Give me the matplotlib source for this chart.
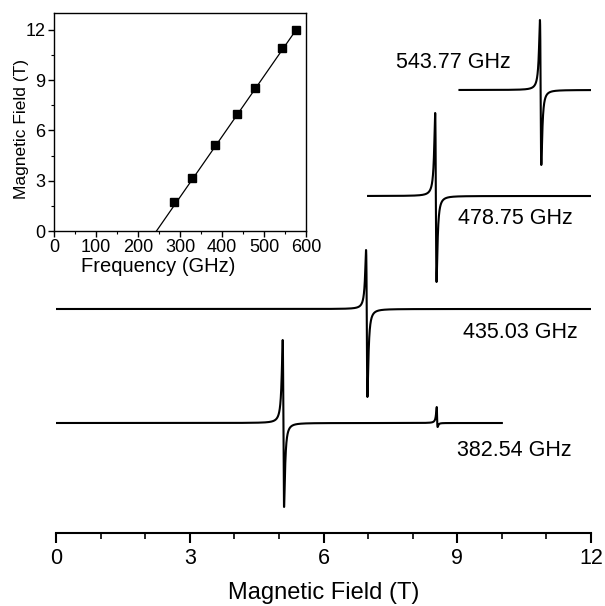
import numpy as np
import matplotlib
matplotlib.use("Agg")
import matplotlib.pyplot as plt
from matplotlib.ticker import MultipleLocator

plt.rcParams['font.family'] = ['Liberation Sans', 'DejaVu Sans']

# ---------------- data ----------------
# spectra labels (GHz)
spec_labels = ["382.54 GHz", "435.03 GHz", "478.75 GHz", "543.77 GHz"]
# field range of each recorded trace (T)
trace_start = [0.0, 0.0, 7.0, 9.05]
trace_end = [10.0, 12.0, 12.0, 12.0]
# main resonance field (T) and lobe amplitudes (arb. units)
res_field = [5.10, 6.97, 8.52, 10.87]
amp_up = [83, 59, 83, 70]
amp_down = [84, 88, 86, 75]
res_width = [0.022, 0.022, 0.022, 0.022]
# weak extra line in the 382.54 GHz trace
extra_field = [8.55]
extra_up = [16]
extra_down = [4]
extra_width = [0.015]

# inset: resonance field vs frequency
inset_freq = [285, 328, 382.54, 435.03, 478.75, 543.77, 575]
inset_field = [1.75, 3.15, 5.15, 7.0, 8.55, 10.9, 12.0]
fit_freq = [244, 578]
fit_field = [0.0, 12.05]

# ---------------- layout ----------------
offsets = [110, 224, 337, 443]
label_x = [8.99, 9.13, 9.01, 7.62]
label_y = [82, 201, 315, 471]


def deriv_line(b, b0, w, up, down):
    x = (b - b0) / w
    s = -x / (1 + x ** 2) ** 1.5 / 0.3849
    return np.where(s > 0, s * up, s * down)


fig = plt.figure(figsize=(6.05, 6.06), dpi=100)
ax = fig.add_axes([56 / 605, (606 - 533) / 606, 535 / 605, 533 / 606])
ax.set_xlim(0, 12)
ax.set_ylim(0, 533)

for i in range(4):
    b = np.linspace(trace_start[i], trace_end[i], 12000)
    y = deriv_line(b, res_field[i], res_width[i], amp_up[i], amp_down[i])
    if i == 0:
        for j in range(len(extra_field)):
            y = y + deriv_line(b, extra_field[j], extra_width[j], extra_up[j], extra_down[j])
    ax.plot(b, y + offsets[i], color='black', lw=1.5, solid_joinstyle='round')
    ax.text(label_x[i], label_y[i], spec_labels[i], fontsize=15.5, ha='left', va='center')

for s in ['left', 'right', 'top']:
    ax.spines[s].set_visible(False)
ax.spines['bottom'].set_linewidth(1.5)
ax.set_yticks([])
ax.set_xticks([0, 3, 6, 9, 12])
ax.xaxis.set_minor_locator(MultipleLocator(1))
ax.tick_params(axis='x', which='major', direction='out', length=7, width=1.5, labelsize=15.5, pad=4)
ax.tick_params(axis='x', which='minor', direction='out', length=4, width=1.2)
ax.set_xlabel("Magnetic Field (T)", fontsize=17, labelpad=9)
ax.patch.set_visible(False)

# ---------------- inset ----------------
ins = fig.add_axes([54 / 605, (606 - 231) / 606, 252 / 605, 218 / 606])
ins.plot(fit_freq, fit_field, color='black', lw=0.9)
ins.plot(inset_freq, inset_field, 's', color='black', ms=6)
ins.set_xlim(0, 600)
ins.set_ylim(0, 13)
ins.set_xticks([0, 100, 200, 300, 400, 500, 600])
ins.set_yticks([0, 3, 6, 9, 12])
ins.xaxis.set_minor_locator(MultipleLocator(50))
ins.yaxis.set_minor_locator(MultipleLocator(1.5))
ins.tick_params(which='major', direction='out', length=4, width=1, labelsize=13, pad=2)
ins.tick_params(which='minor', direction='out', length=2, width=0.8)
for s in ins.spines.values():
    s.set_linewidth(1.0)
ins.set_xlabel("Frequency (GHz)", fontsize=14.5, va='center')
ins.xaxis.set_label_coords(0.413, -0.165)
ins.set_ylabel("Magnetic Field (T)", fontsize=12.5, va='center')
ins.yaxis.set_label_coords(-0.127, 0.468)

fig.savefig("out.png", dpi=100)
